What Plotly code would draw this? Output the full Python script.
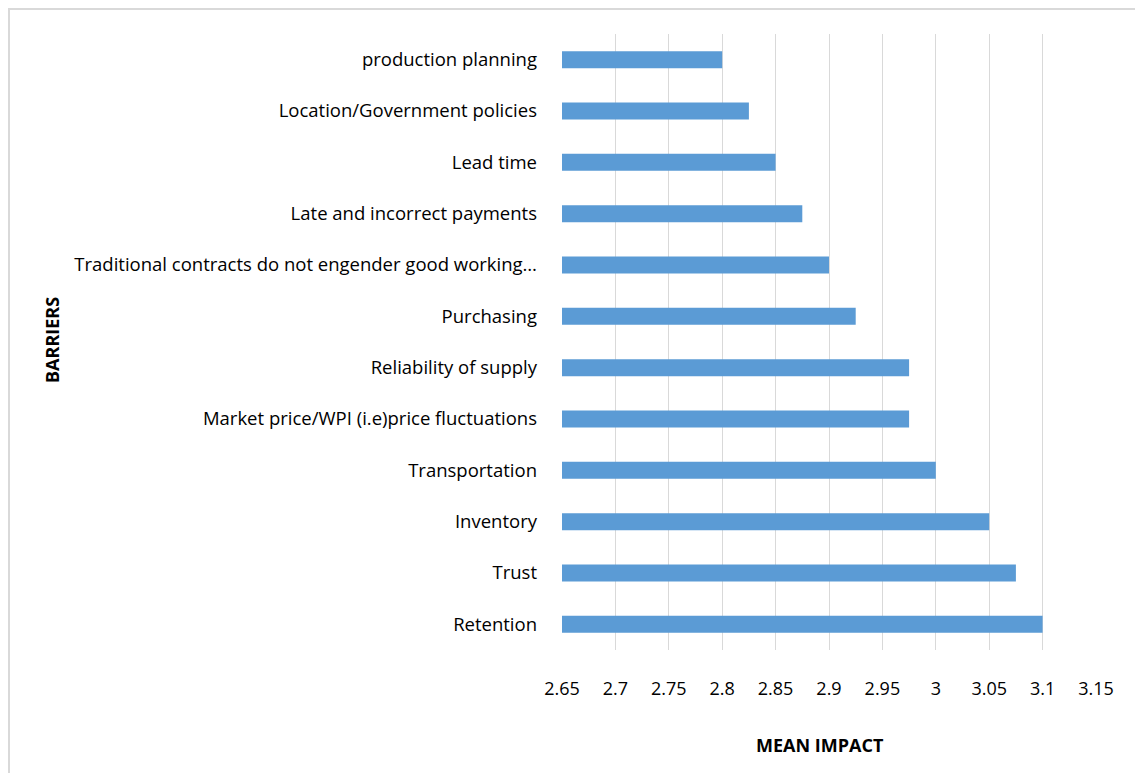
import plotly.graph_objects as go

categories = [
    "production planning",
    "Location/Government policies",
    "Lead time",
    "Late and incorrect payments",
    "Traditional contracts do not engender good working…",
    "Purchasing",
    "Reliability of supply",
    "Market price/WPI (i.e)price fluctuations",
    "Transportation",
    "Inventory",
    "Trust",
    "Retention",
]
mean_impact = [2.8, 2.825, 2.85, 2.875, 2.9, 2.925, 2.975, 2.975, 3.0, 3.05, 3.075, 3.1]
tick_vals = [2.65, 2.7, 2.75, 2.8, 2.85, 2.9, 2.95, 3.0, 3.05, 3.1, 3.15]
tick_text = ["2.65", "2.7", "2.75", "2.8", "2.85", "2.9", "2.95", "3", "3.05", "3.1", "3.15"]
axis_start = 2.65

# page is offset by the browser's 8px body margin
OFF = 8
W, H = 1143 - OFF, 773 - OFF
L = 562 - OFF
T = 34 - OFF
R = W - (1096 - OFF)
B = H - (650 - OFF)
pw, ph = W - L - R, H - T - B

def px_x(p):
    return (p - OFF - L) / pw

def px_y(p):
    return (H - B - (p - OFF)) / ph

FONT = "Open Sans"

fig = go.Figure(go.Bar(
    x=[v - axis_start for v in mean_impact],
    y=categories,
    base=axis_start,
    orientation="h",
    marker=dict(color="#5b9bd5", line=dict(width=0)),
    width=0.33,
))

fig.update_layout(
    width=W, height=H,
    margin=dict(l=L, r=R, t=T, b=B),
    paper_bgcolor="white", plot_bgcolor="white",
    showlegend=False,
    font=dict(family=FONT, color="#000000", size=18),
    xaxis=dict(
        range=[2.65, 3.15],
        tickvals=tick_vals, ticktext=tick_text,
        showgrid=True, gridcolor="#d9d9d9", gridwidth=1,
        zeroline=False, showline=False,
        ticks="", ticklabelstandoff=26,
        tickfont=dict(family=FONT, size=18, color="#000000"),
        fixedrange=True,
    ),
    yaxis=dict(
        autorange="reversed",
        showgrid=False, zeroline=False, showline=False,
        ticks="", ticklabelstandoff=24,
        tickfont=dict(family=FONT, size=18.5, color="#000000"),
    ),
    annotations=[
        dict(text="<b>MEAN IMPACT</b>", xref="paper", yref="paper",
             x=px_x(820), y=px_y(745), showarrow=False,
             font=dict(family=FONT, size=18, color="#000000"),
             xanchor="center", yanchor="middle"),
        dict(text="<b>BARRIERS</b>", xref="paper", yref="paper",
             x=px_x(52), y=px_y(340), showarrow=False, textangle=-90,
             font=dict(family=FONT, size=18, color="#000000"),
             xanchor="center", yanchor="middle"),
    ],
    shapes=[
        dict(type="rect", xref="paper", yref="paper",
             x0=px_x(9), x1=px_x(1150), y0=px_y(790), y1=px_y(9),
             line=dict(color="#d9d9d9", width=2), fillcolor="rgba(0,0,0,0)",
             layer="below"),
    ],
)

fig.write_html("out.html")
